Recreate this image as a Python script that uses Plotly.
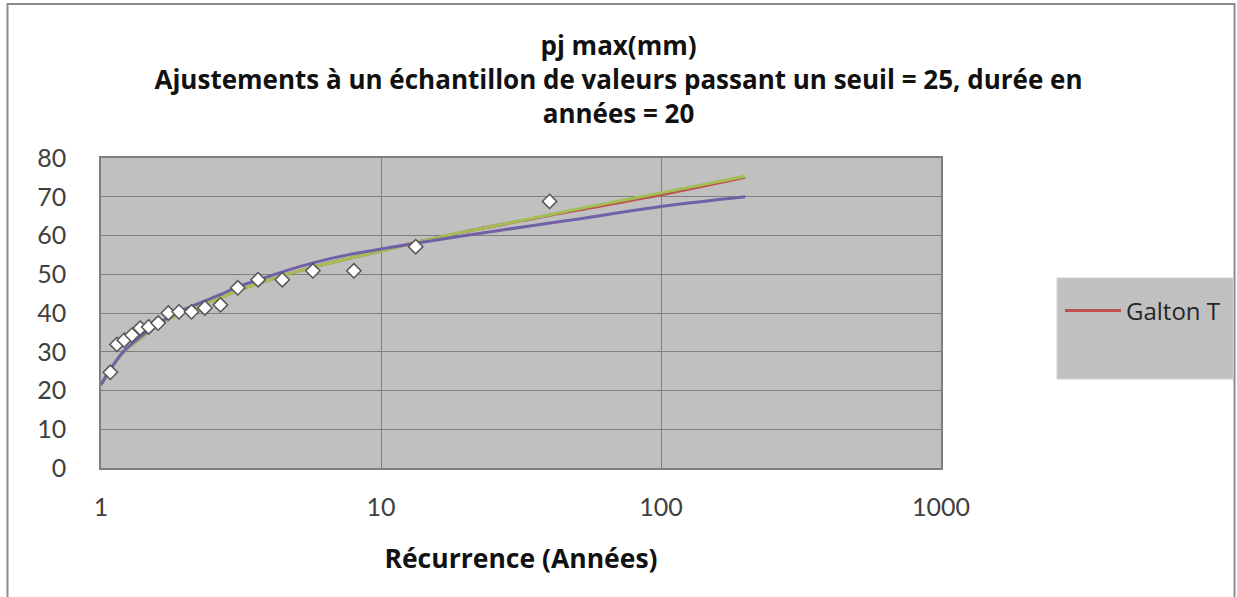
import plotly.graph_objects as go

# Observed sample: return period (years) and daily max precipitation (mm)
obs_T = [1.08, 1.14, 1.21, 1.29, 1.38, 1.48, 1.60, 1.74, 1.90, 2.105,
         2.35, 2.67, 3.08, 3.64, 4.44, 5.71, 8.0, 13.3, 40.0]
obs_pj = [24.7, 31.9, 33.0, 34.3, 36.1, 36.4, 37.4, 40.0, 40.3, 40.3,
          41.3, 42.1, 46.5, 48.6, 48.6, 50.9, 50.9, 57.1, 68.8]

# Fitted curves, sampled along the return period axis
fit_T = [1.0, 1.07, 1.2, 1.4, 1.6, 1.93, 2.27, 2.68, 3.08, 3.63, 4.39,
         5.77, 7.6, 10.0, 13.3, 20.0, 35.0, 50.0, 100.0, 200.0]
galton_pj = [21.5, 25.0, 29.8, 33.8, 36.8, 40.0, 42.0, 44.0, 45.8, 47.6, 49.5,
             51.9, 54.0, 56.0, 58.2, 61.0, 64.4, 66.5, 70.5, 75.0]
fit_b_pj = [21.5, 25.0, 29.8, 33.8, 36.8, 40.0, 42.0, 44.0, 45.8, 47.6, 49.5,
            51.9, 54.0, 56.0, 58.2, 61.0, 64.5, 66.8, 71.0, 75.3]
fit_c_pj = [21.5, 25.0, 30.0, 34.2, 37.3, 40.5, 42.7, 44.8, 46.8, 48.5, 50.5,
            53.0, 55.0, 56.5, 58.0, 60.0, 62.6, 64.2, 67.5, 70.0]

x_ticks = [1, 10, 100, 1000]
x_tick_text = ["1", "10", "100", "1000"]

title_lines = ["pj max(mm)",
               "Ajustements à un échantillon de valeurs passant un seuil = 25, durée en",
               "années = 20"]

TICK_FONT = "Lato"
BOLD_FONT = "Open Sans"
W, H = 1237, 597
L, R, T, B = 101, 941, 158, 468  # plot area edges in pixels

fig = go.Figure()
fig.add_trace(go.Scatter(x=fit_T, y=galton_pj, mode="lines", name="Galton T",
                         line=dict(color="#C0504D", width=3, shape="spline")))
fig.add_trace(go.Scatter(x=fit_T, y=fit_b_pj, mode="lines", name="ajustement B",
                         showlegend=False,
                         line=dict(color="#A2BF55", width=3, shape="spline")))
fig.add_trace(go.Scatter(x=fit_T, y=fit_c_pj, mode="lines", name="ajustement C",
                         showlegend=False,
                         line=dict(color="#7160A6", width=3, shape="spline")))
fig.add_trace(go.Scatter(x=obs_T, y=obs_pj, mode="markers", name="observations",
                         showlegend=False,
                         marker=dict(symbol="diamond", size=11, color="white",
                                     line=dict(color="#555555", width=1.5))))

def px_x(p):
    return (p - L) / (R - L)

def px_y(p):
    return (B - p) / (B - T)

shapes = [
    # outer chart frame
    dict(type="rect", xref="paper", yref="paper", layer="below",
         x0=px_x(7.5), x1=px_x(1234.5), y0=px_y(640), y1=px_y(4),
         line=dict(color="#8c8c8c", width=2), fillcolor="rgba(0,0,0,0)"),
    # legend panel
    dict(type="rect", xref="paper", yref="paper", layer="below",
         x0=px_x(1057), x1=px_x(1233), y0=px_y(379), y1=px_y(278),
         line=dict(color="#d0d0d0", width=1), fillcolor="#C0C0C0"),
]

fig.update_layout(
    width=W, height=H,
    margin=dict(l=L, r=W - R, t=T, b=H - B, autoexpand=False),
    paper_bgcolor="white",
    plot_bgcolor="#C0C0C0",
    font=dict(family=TICK_FONT, size=25, color="#404040"),
    title=dict(text="<br>".join(title_lines), x=0.5, xref="container",
               xanchor="center", y=1 - 55 / H, yref="container", yanchor="top",
               font=dict(family=BOLD_FONT, size=26, color="#111111",
                         weight="bold")),
    xaxis=dict(type="log", range=[0, 3], tickvals=x_ticks, ticktext=x_tick_text,
               showgrid=True, gridcolor="#7f7f7f", gridwidth=1,
               showline=True, linecolor="#7f7f7f", linewidth=1.5, mirror=True,
               ticks="outside", ticklen=16, tickcolor="rgba(0,0,0,0)",
               zeroline=False,
               title=dict(text="Récurrence (Années)", standoff=30,
                          font=dict(family=BOLD_FONT, size=26.5, color="#111111",
                                    weight="bold"))),
    yaxis=dict(range=[0, 80], dtick=10, showgrid=True, gridcolor="#7f7f7f",
               gridwidth=1, showline=True, linecolor="#7f7f7f", linewidth=1.5,
               mirror=True, ticks="outside", ticklen=28,
               tickcolor="rgba(0,0,0,0)", zeroline=False),
    legend=dict(x=px_x(1060), y=px_y(311), xanchor="left", yanchor="middle",
                bgcolor="rgba(0,0,0,0)", borderwidth=0, itemwidth=56,
                font=dict(family=BOLD_FONT, size=24, color="#262626")),
    shapes=shapes,
    showlegend=True,
)

fig.write_html("out.html")
